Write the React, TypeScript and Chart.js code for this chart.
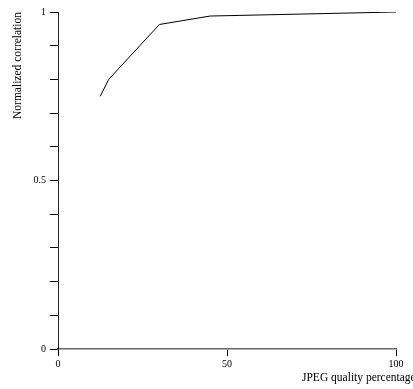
import React, { useEffect, useRef } from "react";
import { Chart, registerables } from "chart.js";

Chart.register(...registerables);

const quality = [12.5, 15, 30, 45, 100];
const correlation = [0.75, 0.8, 0.963, 0.988, 1.0];
const yLabelValues = [0, 0.5, 1];
const yLabelTexts = ["0", "0.5", "1"];
const xTitle = "JPEG quality percentage";
const yTitle = "Normalized correlation";

const FONT = '"Liberation Serif", "Times New Roman", serif';

export default function App() {
  const ref = useRef<HTMLCanvasElement | null>(null);
  useEffect(() => {
    if (!ref.current) return;
    const xTitlePlugin = {
      id: "xTitlePlugin",
      afterDraw(chart: any) {
        const { ctx, chartArea } = chart;
        ctx.save();
        ctx.font = `11.5px ${FONT}`;
        ctx.fillStyle = "#000";
        ctx.textAlign = "left";
        ctx.textBaseline = "middle";
        ctx.fillText(xTitle, chartArea.right - 94, 378);
        ctx.restore();
      },
    };
    const chart = new Chart(ref.current, {
      type: "scatter",
      data: {
        datasets: [
          {
            data: quality.map((q, i) => ({ x: q, y: correlation[i] })),
            showLine: true,
            borderColor: "#000",
            borderWidth: 1,
            pointRadius: 0,
            fill: false,
          },
        ],
      },
      options: {
        animation: false,
        responsive: false,
        maintainAspectRatio: false,
        layout: { padding: { top: 12, right: 17, bottom: 0, left: 0 } },
        plugins: { legend: { display: false }, tooltip: { enabled: false } },
        scales: {
          x: {
            type: "linear",
            min: 0,
            max: 100,
            afterFit(scale: any) {
              scale.height = 40;
            },
            ticks: {
              stepSize: 50,
              color: "#000",
              padding: 2,
              maxRotation: 0,
              font: { family: FONT, size: 10 },
            },
            grid: {
              drawOnChartArea: false,
              drawTicks: true,
              tickLength: 7,
              color: "#000",
            },
            border: { display: true, color: "#666", width: 1.5 },
          },
          y: {
            type: "linear",
            min: 0,
            max: 1,
            afterFit(scale: any) {
              scale.width = 58;
            },
            ticks: {
              stepSize: 0.1,
              color: "#000",
              padding: 4,
              font: { family: FONT, size: 10 },
              callback: (v: any) => {
                for (let i = 0; i < yLabelValues.length; i++) {
                  if (Math.abs(Number(v) - yLabelValues[i]) < 1e-6) return yLabelTexts[i];
                }
                return "";
              },
            },
            grid: {
              drawOnChartArea: false,
              drawTicks: true,
              tickLength: 8,
              color: "#000",
            },
            border: { display: true, color: "#222", width: 1 },
            title: {
              display: true,
              text: yTitle,
              align: "end",
              color: "#000",
              font: { family: FONT, size: 11.5 },
              padding: { top: 11, bottom: 0 },
            },
          },
        },
      },
      plugins: [xTitlePlugin],
    } as any);
    return () => chart.destroy();
  }, []);
  return (
    <div style={{ position: "fixed", left: 0, top: 0, width: 413, height: 389, background: "#fff" }}>
      <canvas ref={ref} width={413} height={389} style={{ width: 413, height: 389 }} />
    </div>
  );
}
